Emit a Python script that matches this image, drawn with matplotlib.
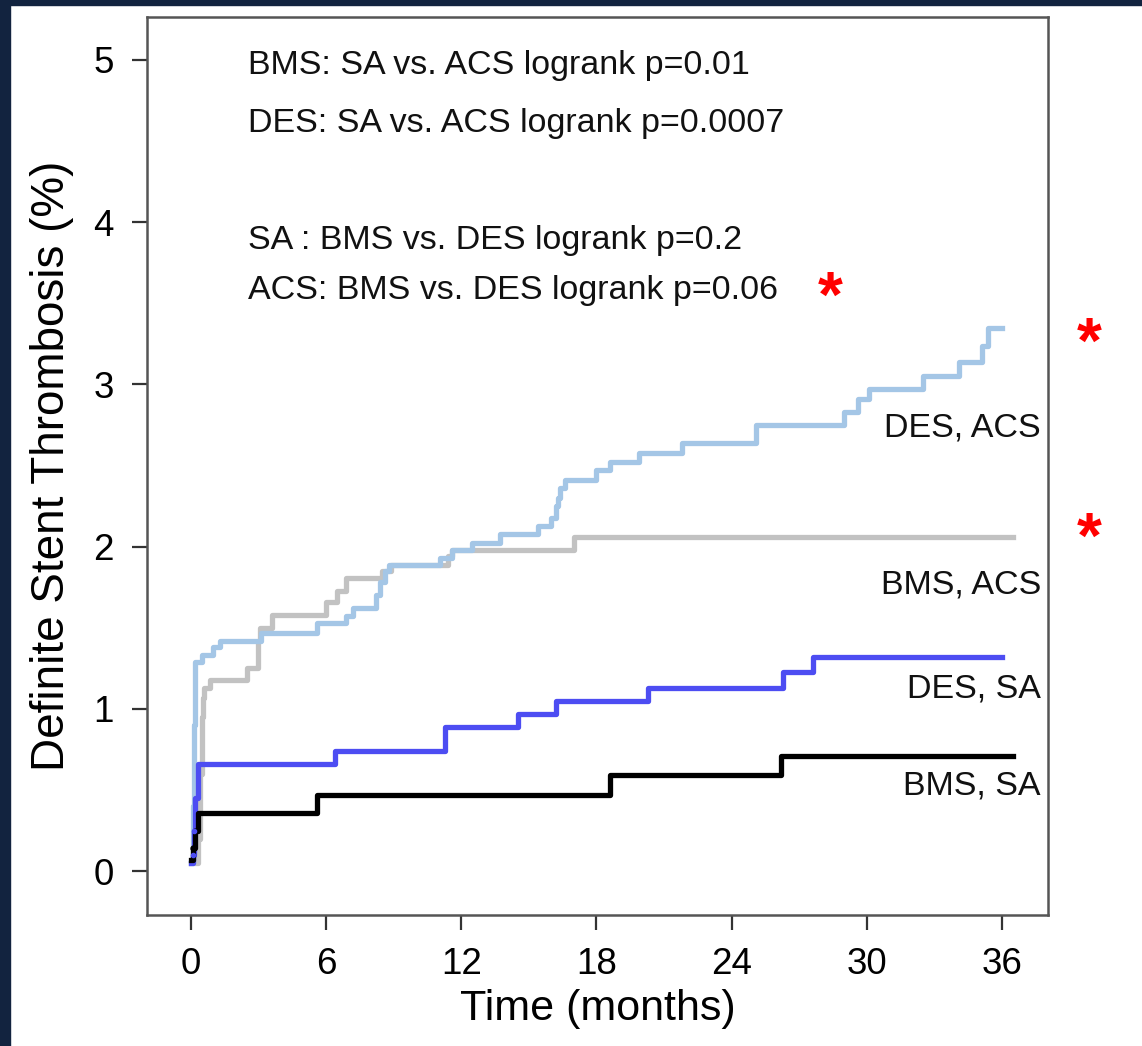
import matplotlib
matplotlib.use("Agg")
import matplotlib.pyplot as plt
from matplotlib.patches import Rectangle

plt.rcParams['font.family'] = ['Liberation Sans', 'DejaVu Sans']

# --- データ (月, 累積ステント血栓症 %) ---
bms_sa_t = [0, 0.1, 0.2, 0.3, 5.6, 18.6, 26.2, 36.5]
bms_sa_v = [0.07, 0.14, 0.25, 0.36, 0.47, 0.59, 0.71, 0.71]

des_sa_t = [0, 0.1, 0.15, 0.2, 0.3, 6.4, 11.3, 14.5, 16.2, 20.3, 26.3, 27.6, 36.0]
des_sa_v = [0.05, 0.1, 0.25, 0.45, 0.66, 0.74, 0.89, 0.97, 1.05, 1.13, 1.23, 1.32, 1.32]

bms_acs_t = [0, 0.3, 0.4, 0.5, 0.55, 0.6, 0.85, 2.5, 3.0, 3.06, 3.6, 6.0, 6.5,
             6.9, 8.5, 8.9, 11.4, 11.6, 17.0, 36.5]
bms_acs_v = [0.05, 0.2, 0.6, 0.95, 1.07, 1.13, 1.18, 1.25, 1.42, 1.50, 1.58, 1.66, 1.73,
             1.81, 1.85, 1.89, 1.94, 1.98, 2.06, 2.06]

des_acs_t = [0, 0.1, 0.15, 0.18, 0.5, 1.0, 1.3, 3.1, 5.6, 6.9, 7.2, 8.2, 8.4, 8.6, 8.8,
             11.05, 11.6, 12.5, 13.7, 15.4, 16.0, 16.2, 16.3, 16.4, 16.6, 18.0, 18.6,
             19.9, 21.8, 25.1, 29.0, 29.6, 30.1, 32.5, 34.1, 35.1, 35.4, 36.0]
des_acs_v = [0.05, 0.4, 0.9, 1.29, 1.33, 1.38, 1.42, 1.47, 1.53, 1.57, 1.62, 1.70, 1.78, 1.85, 1.89,
             1.93, 1.98, 2.02, 2.08, 2.13, 2.18, 2.25, 2.30, 2.36, 2.41, 2.47, 2.52,
             2.58, 2.64, 2.75, 2.83, 2.91, 2.97, 3.05, 3.14, 3.24, 3.35, 3.35]

x_ticks = [0, 6, 12, 18, 24, 30, 36]
y_ticks = [0, 1, 2, 3, 4, 5]

stats_text = [
    "BMS: SA vs. ACS logrank p=0.01",
    "DES: SA vs. ACS logrank p=0.0007",
    "SA : BMS vs. DES logrank p=0.2",
    "ACS: BMS vs. DES logrank p=0.06",
]
stats_y = [4.914, 4.556, 3.835, 3.527]

curve_labels = ["DES, ACS", "BMS, ACS", "DES, SA", "BMS, SA"]
curve_label_y = [2.68, 1.714, 1.073, 0.475]

# ---------------------------------------------------------
# 描画
# ---------------------------------------------------------
fig = plt.figure(figsize=(11.42, 10.46), dpi=100, facecolor='white')

# 左と上の濃紺の縁
border = '#12233f'
fig.patches.append(Rectangle((0, 0), 10 / 1142, 1, transform=fig.transFigure,
                             color=border, zorder=-10))
fig.patches.append(Rectangle((0, 1 - 5 / 1046), 1, 5 / 1046, transform=fig.transFigure,
                             color=border, zorder=-10))

ax = fig.add_axes([147 / 1142, 1 - 915 / 1046, 901 / 1142, 898 / 1046])

lw = 3.8
ax.step(bms_acs_t, bms_acs_v, where='post', color='#c2c2c2', linewidth=lw)
ax.step(des_acs_t, des_acs_v, where='post', color='#a4c6e6', linewidth=lw)
ax.step(des_sa_t, des_sa_v, where='post', color='#4d4df2', linewidth=lw)
ax.step(bms_sa_t, bms_sa_v, where='post', color='black', linewidth=lw)

# 打ち切り付近の点
ax.plot(bms_sa_t[1:3], bms_sa_v[1:3], 'o', color='black', markersize=3.5)
ax.plot(des_sa_t[1:3], des_sa_v[1:3], 'o', color='#4d4df2', markersize=3)

ax.set_xlim(-1.95, 38.05)
ax.set_ylim(-0.27, 5.265)
ax.set_xticks(x_ticks)
ax.set_yticks(y_ticks)
ax.tick_params(axis='both', labelsize=26.5, length=11, width=1.6, color='#333333')
ax.tick_params(axis='y', pad=13)
ax.tick_params(axis='x', pad=12)

for s in ax.spines.values():
    s.set_color('#555555')
    s.set_linewidth(1.8)

ax.set_xlabel("Time (months)", fontsize=31, labelpad=5)
ax.set_ylabel("Definite Stent Thrombosis (%)", fontsize=33, labelpad=14)

for txt, yv in zip(stats_text, stats_y):
    ax.text(2.53, yv, txt, fontsize=24.5, va='baseline', ha='left', color='#111111')

for txt, yv in zip(curve_labels, curve_label_y):
    ax.text(37.73, yv, txt, fontsize=24.5, va='baseline', ha='right', color='#111111')

# 赤いアスタリスク
star_pos = [(830, 300), (1089, 346), (1089, 541)]
for px, py in star_pos:
    fig.text(px / 1142, 1 - py / 1046, "*", color='red', fontsize=46,
             fontweight='bold', ha='center', va='center')

plt.savefig("out.png", dpi=100, facecolor=fig.get_facecolor())
